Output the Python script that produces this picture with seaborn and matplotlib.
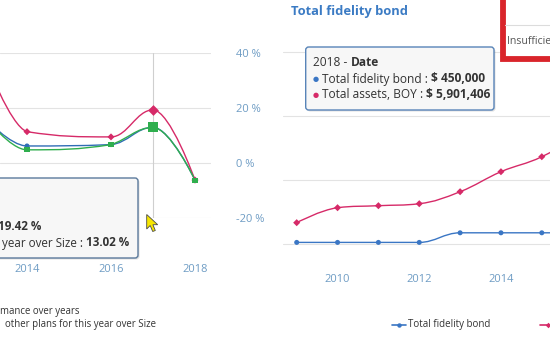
import numpy as np
import pandas as pd
import seaborn as sns
import matplotlib
matplotlib.use("Agg")
import matplotlib.pyplot as plt
from matplotlib.path import Path
from matplotlib.patches import PathPatch, FancyBboxPatch, Rectangle, Polygon

# ---------------- data ----------------
perf_years = [2013, 2014, 2016, 2017, 2018]
plan_perf = [38.0, 11.5, 9.6, 19.42, -6.1]            # pink
median_size = [16.5, 6.3, 6.8, 13.1, -6.1]             # blue
median_year_size = [17.0, 4.9, 6.8, 13.02, -6.1]       # green
perf_xticks = [2014, 2016, 2018]
perf_yticks = [-20, 0, 20, 40]
perf_ylabels = ["-20 %", "0 %", "20 %", "40 %"]
hover_year = 2017

bond_years = [2009, 2010, 2011, 2012, 2013, 2014, 2015, 2016, 2017, 2018]
fidelity_bond = [50000, 50000, 50000, 50000, 350000, 350000, 350000, 350000, 450000, 450000]
total_assets = [666000, 1134000, 1197000, 1259000, 1634000, 2259000, 2728000, 3500000, 4600000, 5901406]
bond_xticks = [2010, 2012, 2014]
bond_yticks = [0, 2000000, 4000000, 6000000]

PINK = "#d62a68"
BLUE = "#2f6db5"
GREEN = "#2fae4e"
BLUE2 = "#3a76c4"
LABEL = "#6e9cc4"
GRID = "#e3e3e3"

sns.set_theme(style="white")
plt.rcParams["font.family"] = ["Open Sans", "DejaVu Sans"]

W, H = 550, 340
fig = plt.figure(figsize=(5.5, 3.4), dpi=100)


def px_axes(l, t, r, b):
    return fig.add_axes([l / W, 1 - b / H, (r - l) / W, (b - t) / H])


def spline_path(xs, ys):
    n = len(xs)
    sm, den = 1.5, 2.5
    lc = [None] * n
    rc = [None] * n
    for i in range(1, n - 1):
        px, py = xs[i], ys[i]
        lx, ly = xs[i - 1], ys[i - 1]
        nx, ny = xs[i + 1], ys[i + 1]
        lcx = (sm * px + lx) / den
        lcy = (sm * py + ly) / den
        rcx = (sm * px + nx) / den
        rcy = (sm * py + ny) / den
        if rcx != lcx:
            corr = ((rcy - lcy) * (rcx - px)) / (rcx - lcx) + py - rcy
            lcy += corr
            rcy += corr
        if lcy > ly and lcy > py:
            lcy = max(ly, py); rcy = 2 * py - lcy
        elif lcy < ly and lcy < py:
            lcy = min(ly, py); rcy = 2 * py - lcy
        if rcy > ny and rcy > py:
            rcy = max(ny, py); lcy = 2 * py - rcy
        elif rcy < ny and rcy < py:
            rcy = min(ny, py); lcy = 2 * py - rcy
        lc[i] = (lcx, lcy)
        rc[i] = (rcx, rcy)
    verts = [(xs[0], ys[0])]
    codes = [Path.MOVETO]
    for i in range(1, n):
        c1 = rc[i - 1] if rc[i - 1] else (xs[i - 1], ys[i - 1])
        c2 = lc[i] if lc[i] else (xs[i], ys[i])
        verts += [c1, c2, (xs[i], ys[i])]
        codes += [Path.CURVE4] * 3
    return Path(verts, codes)


# ---------------- left chart ----------------
ax1 = px_axes(0, 53.3, 211, 218.3)
yr_px = 42.0
ax1.set_xlim(2018 + (0 - 195) / yr_px, 2018 + (211 - 195) / yr_px)
ax1.set_ylim(-20, 40)
perf_df = pd.DataFrame({
    "Year": perf_years * 3,
    "Value": median_size + plan_perf + median_year_size,
    "Series": ["Median of other plans"] * 5 + ["Plan performance over years"] * 5
              + ["Median of other plans for this year over Size"] * 5,
})
pal1 = {"Median of other plans": BLUE, "Plan performance over years": PINK,
        "Median of other plans for this year over Size": GREEN}
mk1 = {"Median of other plans": "o", "Plan performance over years": "D",
       "Median of other plans for this year over Size": "s"}
sz_hover = {"Median of other plans": 14, "Plan performance over years": 30,
            "Median of other plans for this year over Size": 48}
ax1.axvline(hover_year, color="#cfcfcf", lw=0.8, zorder=1)
for name, grp in perf_df.groupby("Series", sort=False):
    ax1.add_patch(PathPatch(spline_path(list(grp["Year"]), list(grp["Value"])),
                            fill=False, ec=pal1[name], lw=1.0, zorder=3))
sns.scatterplot(data=perf_df, x="Year", y="Value", hue="Series", style="Series",
                palette=pal1, markers=mk1, s=13, linewidth=0, legend=False, ax=ax1, zorder=4)
hov = perf_df[(perf_df["Year"] == hover_year) & (perf_df["Series"] != "Median of other plans")]
for name, grp in hov.groupby("Series", sort=False):
    sns.scatterplot(data=grp, x="Year", y="Value", color=pal1[name], marker=mk1[name],
                    s=sz_hover[name], linewidth=0, legend=False, ax=ax1, zorder=5)
ax1.set_xticks(perf_xticks)
ax1.set_xticklabels([str(t) for t in perf_xticks])
ax1.set_yticks(perf_yticks)
ax1.set_yticklabels(perf_ylabels)
ax1.yaxis.tick_right()
ax1.tick_params(axis="y", length=0, pad=18.0, labelsize=8.0, labelcolor=LABEL)
ax1.tick_params(axis="x", length=0, pad=33.0, labelsize=8.0, labelcolor=LABEL)
ax1.grid(axis="y", color=GRID, lw=0.8)
ax1.grid(axis="x", visible=False)
for s in ax1.spines.values():
    s.set_visible(False)
ax1.set_xlabel("")
ax1.set_ylabel("")
ax1.patch.set_alpha(0)

# ---------------- right chart ----------------
ax2 = px_axes(283, 40, 700, 260)
yr2 = 40.85
ax2.set_xlim(2009 + (283 - 296.7) / yr2, 2009 + (700 - 296.7) / yr2)
mpx = (244 - 52) / 6e6
ax2.set_ylim(-(260 - 244) / mpx, 6e6 + (52 - 40) / mpx)
bond_df = pd.DataFrame({
    "Year": bond_years * 2,
    "Value": fidelity_bond + total_assets,
    "Series": ["Total fidelity bond"] * 10 + ["Total assets, BOY"] * 10,
})
pal2 = {"Total fidelity bond": BLUE2, "Total assets, BOY": PINK}
mk2 = {"Total fidelity bond": "o", "Total assets, BOY": "D"}
for name, grp in bond_df.groupby("Series", sort=False):
    ax2.add_patch(PathPatch(spline_path(list(grp["Year"]), list(grp["Value"])),
                            fill=False, ec=pal2[name], lw=1.0, zorder=3))
sns.scatterplot(data=bond_df, x="Year", y="Value", hue="Series", style="Series",
                palette=pal2, markers=mk2, s=13, linewidth=0, legend=False, ax=ax2, zorder=4)
ax2.set_xticks(bond_xticks)
ax2.set_xticklabels([str(t) for t in bond_xticks])
ax2.set_yticks(bond_yticks)
ax2.set_yticklabels([])
ax2.tick_params(axis="y", length=0)
ax2.tick_params(axis="x", length=0, pad=10.3, labelsize=8.0, labelcolor=LABEL)
ax2.grid(axis="y", color=GRID, lw=0.8)
ax2.grid(axis="x", visible=False)
for s in ax2.spines.values():
    s.set_visible(False)
ax2.set_xlabel("")
ax2.set_ylabel("")
ax2.patch.set_alpha(0)

# ---------------- overlay (pixel coordinates) ----------------
ov = fig.add_axes([0, 0, 1, 1], zorder=10)
ov.set_xlim(0, W)
ov.set_ylim(H, 0)
ov.axis("off")
ov.patch.set_alpha(0)
renderer = fig.canvas.get_renderer()


def runs(x, y, pieces, size, align="left"):
    objs = []
    total = 0
    space = 0.26 * size * 100 / 72
    for txt, wt, col, sp, fs in pieces:
        t = ov.text(0, y, txt, fontsize=fs or size, fontweight=wt, color=col,
                    va="center", ha="left")
        w = t.get_window_extent(renderer).width + (space if sp else 0)
        objs.append((t, w))
        total += w
    start = x if align == "left" else x - total
    for t, w in objs:
        t.set_x(start)
        start += w


def tooltip(x0, y0, x1, y1, ec):
    ov.add_patch(FancyBboxPatch((x0 + 1.5, y0 + 1.5), x1 - x0, y1 - y0,
                                boxstyle="round,pad=0,rounding_size=3",
                                fc="#000000", ec="none", alpha=0.12))
    ov.add_patch(FancyBboxPatch((x0, y0), x1 - x0, y1 - y0,
                                boxstyle="round,pad=0,rounding_size=3",
                                fc="#f7f7f7", ec=ec, lw=1.0))


TXT = "#333333"
# left tooltip
tooltip(-10, 178, 138, 258, "#5b7a9c")
runs(41, 227, [("19.42 %", "bold", TXT, False, None)], 8.4, align="right")
runs(129.5, 243, [("year over Size :", "normal", TXT, True, None),
                  ("13.02 %", "bold", TXT, False, None)], 8.4, align="right")

# right tooltip
tooltip(305.7, 47, 494, 110, "#5884b8")
runs(313, 62, [("2018 -", "normal", TXT, True, None), ("Date", "bold", TXT, False, None)], 8.6)
runs(313, 79, [("●", "normal", BLUE2, True, 5.0), ("Total fidelity bond :", "normal", TXT, True, None),
               ("$ 450,000", "bold", TXT, False, None)], 8.6)
runs(313, 95, [("●", "normal", PINK, True, 5.0), ("Total assets, BOY :", "normal", TXT, True, None),
               ("$ 5,901,406", "bold", TXT, False, None)], 8.6)

# title
ov.text(290.7, 11, "Total fidelity bond", fontsize=9.3, fontweight="bold",
        color="#3b7bc4", va="center", ha="left")

# red notice box
ov.add_patch(Rectangle((502.5, -10), 60, 68.5, fc="white", ec="#d9252b", lw=4.2))
ov.plot([505, 550], [25, 25], color="#dcdcdc", lw=0.8)
ov.text(507, 41, "Insufficie", fontsize=7.6, color="#555555", va="center", ha="left")

# legends
ov.text(0, 311.7, "mance over years", fontsize=6.9, color=TXT, va="center", ha="left")
ov.text(5, 325, "other plans for this year over Size", fontsize=6.9, color=TXT,
        va="center", ha="left")
ov.plot([392, 406], [325, 325], color=BLUE2, lw=1.2)
ov.plot([399], [325], "o", color=BLUE2, ms=3.2, mew=0)
ov.text(407.5, 325, "Total fidelity bond", fontsize=7.0, color=TXT, va="center", ha="left")
ov.plot([540, 556], [325, 325], color=PINK, lw=1.2)
ov.plot([548], [325], "D", color=PINK, ms=2.8, mew=0)

# mouse cursor
cur = np.array([(0, 0), (0, 14.5), (3.5, 11), (6, 17), (8.6, 16), (6.2, 10.2), (11, 10.2)])
ov.add_patch(Polygon(cur + np.array([146.7, 214.5]), closed=True, fc="#f7e600",
                     ec="#4a4a4a", lw=0.6))

fig.savefig("out.png", dpi=100)
